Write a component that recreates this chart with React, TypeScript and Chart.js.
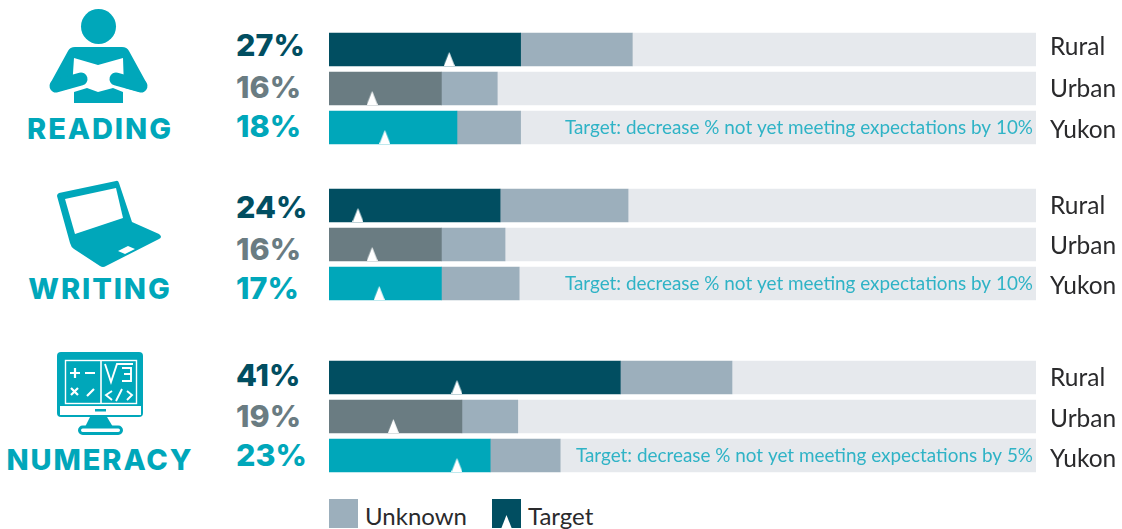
import React, { useEffect, useRef } from "react";
import { Chart, registerables } from "chart.js";

Chart.register(...registerables);

const regions = ["Rural", "Urban", "Yukon"];
const readingMeasured = [27.1, 15.9, 18.1];
const readingUnknown = [15.8, 7.9, 9.0];
const readingTarget = [17.0, 6.1, 7.9];
const readingLabels = [27, 16, 18];
const writingMeasured = [24.2, 15.9, 15.9];
const writingUnknown = [18.1, 9.0, 11.0];
const writingTarget = [4.1, 6.1, 7.1];
const writingLabels = [24, 16, 17];
const numeracyMeasured = [41.2, 18.8, 22.8];
const numeracyUnknown = [15.8, 7.9, 9.9];
const numeracyTarget = [18.1, 9.1, 18.1];
const numeracyLabels = [41, 19, 23];
const readingNote = "Target: decrease % not yet meeting expectations by 10%";
const writingNote = "Target: decrease % not yet meeting expectations by 10%";
const numeracyNote = "Target: decrease % not yet meeting expectations by 5%";

const DARK = "#014E61";
const GREY = "#6A7C82";
const TEAL = "#00A7BA";
const UNKNOWN = "#9CAFBC";
const TRACK = "#E6E9ED";
const NOTE = "#2FB3C6";
const INK = "#2A2A2C";
const rowColors = [DARK, GREY, TEAL];
const BODY_FONT = "Lato, sans-serif";
const HEAD_FONT = "Inter, sans-serif";

function makeMarker(): HTMLCanvasElement {
  const c = document.createElement("canvas");
  c.width = 11;
  c.height = 33;
  const g = c.getContext("2d")!;
  g.fillStyle = "#FFFFFF";
  g.beginPath();
  g.moveTo(5.5, 19);
  g.lineTo(11, 33);
  g.lineTo(0, 33);
  g.closePath();
  g.fill();
  return c;
}

function GroupChart(props: {
  top: number;
  measured: number[];
  unknown: number[];
  target: number[];
  note: string;
  labelNudge: number[];
}) {
  const ref = useRef<HTMLCanvasElement>(null);
  useEffect(() => {
    const { measured, unknown, target, note, labelNudge } = props;
    const chart = new Chart(ref.current!, {
      type: "bar",
      data: {
        labels: regions,
        datasets: [
          {
            type: "scatter",
            label: "Target",
            data: regions.map((r, i) => ({ x: target[i], y: r })),
            pointStyle: makeMarker(),
            order: 0,
            clip: false,
          } as any,
          { label: "Measured", data: measured, backgroundColor: rowColors, order: 1, barThickness: 33 },
          { label: "Unknown", data: unknown, backgroundColor: UNKNOWN, order: 2, barThickness: 33 },
          {
            label: "Remaining",
            data: measured.map((m, i) => 100 - m - unknown[i]),
            backgroundColor: TRACK,
            order: 3,
            barThickness: 33,
          },
        ],
      },
      options: {
        indexAxis: "y",
        responsive: false,
        animation: false,
        layout: { padding: 0, autoPadding: false },
        events: [],
        plugins: { legend: { display: false }, tooltip: { enabled: false } },
        scales: {
          x: { display: false, stacked: true, min: 0, max: 100 },
          y: {
            type: "category",
            position: "right",
            stacked: true,
            offset: true,
            grid: { display: false, drawTicks: false },
            border: { display: false },
            ticks: { padding: 14, color: INK, font: { family: BODY_FONT, size: 24.5 } },
            afterBuildTicks: (s: any) => {
              s.getPixelForTick = (i: number) => s.getPixelForValue(i) + (labelNudge[i] || 0);
            },
            afterFit: (s: any) => {
              s.width = 86;
              s.paddingTop = 0;
              s.paddingBottom = 0;
              s.paddingLeft = 0;
              s.paddingRight = 0;
            },
          },
        },
      },
      plugins: [
        {
          id: "targetNote",
          afterDatasetsDraw(c: any) {
            const g = c.ctx;
            g.save();
            g.font = `18.9px ${BODY_FONT}`;
            g.fillStyle = NOTE;
            g.textAlign = "right";
            g.textBaseline = "middle";
            g.fillText(note, c.scales.x.right - 3, c.scales.y.getPixelForValue(2));
            g.restore();
          },
        },
      ],
    } as any);
    return () => chart.destroy();
  }, []);
  return (
    <canvas
      ref={ref}
      width={793}
      height={117}
      style={{ position: "absolute", left: 329, top: props.top, width: 793, height: 117 }}
    />
  );
}

function Percent({ value, center, index }: { value: number; center: number; index: number }) {
  return (
    <div
      style={{
        position: "absolute",
        left: 236,
        top: center - 20,
        height: 40,
        lineHeight: "40px",
        fontFamily: HEAD_FONT,
        fontWeight: 800,
        fontSize: 30.5,
        color: rowColors[index],
        whiteSpace: "nowrap",
      }}
    >
      {value}%
    </div>
  );
}

function Heading({ text, center, y }: { text: string; center: number; y: number }) {
  return (
    <div
      style={{
        position: "absolute",
        left: center - 110,
        width: 220,
        top: y - 20,
        height: 40,
        lineHeight: "40px",
        textAlign: "center",
        fontFamily: HEAD_FONT,
        fontWeight: 800,
        fontSize: 29,
        letterSpacing: 1.9,
        color: TEAL,
      }}
    >
      {text}
    </div>
  );
}

function Icons() {
  return (
    <svg width={1122} height={529} style={{ position: "absolute", left: 0, top: 0 }}>
      {/* reader */}
      <circle cx={98.5} cy={26.5} r={17.5} fill={TEAL} />
      <path
        d="M75 47 H122 Q127 47 129 51 L146 82 Q148 90 140 92 L114 85 H82 L56 92 Q48 90 51 82 L68 51 Q70 47 75 47 Z"
        fill={TEAL}
      />
      <path d="M74 58 L98 65 L123 58 L124 88 L113 88 L98 93 L87 88 L72 88 Z" fill="#fff" />
      <path d="M141 86 L116 79 M56 86 L81 79" stroke={TEAL} strokeWidth={13} strokeLinecap="round" />
      <path d="M74 92 L87 88 L98 92 L113 88 L123 92 V103 H74 Z" fill={TEAL} />
      {/* laptop */}
      <path
        d="M59 193 L116 181 Q118 180 119 183 L132 222 L159 234 Q163 237 159 239 L106 266 Q103 268 100 266 L74 249 Q71 247 70 243 L57 196 Q57 194 59 193 Z"
        fill={TEAL}
      />
      <path d="M65 199 L116 188 L123 218 L75 234 Z" fill="#fff" />
      <path d="M118 251 L128 246 L135 249 L125 254 Z" fill="#fff" />
      {/* monitor */}
      <rect x={57} y={352} width={86} height={65} rx={4} fill={TEAL} />
      <rect x={65.5} y={360.5} width={71} height={43} fill="none" stroke="#fff" strokeWidth={1.4} />
      <path d="M101 360 V403" stroke="#fff" strokeWidth={1.6} />
      <rect x={60} y={406} width={81} height={9} fill="#fff" />
      <rect x={95} y={409} width={11} height={2.5} fill={TEAL} />
      <path d="M90 417 H107 L113 427 H85 Z" fill={TEAL} />
      <rect x={79.5} y={427} width={42} height={6.5} rx={3.2} fill="#fff" stroke={TEAL} strokeWidth={3} />
      <path
        d="M70 373 H80 M75 368 V378 M85 373 H95 M71 388 L78 395 M78 388 L71 395 M87 396 L94 389"
        stroke="#fff"
        strokeWidth={2.2}
        fill="none"
      />
      <path
        d="M105 364 L111 382 L117 364 H133 M122 368 H131 V381 H122 M124 374 H131 M112 391 L106 395 L112 400 M122 389 L116 401 M127 391 L132 395 L127 400"
        stroke="#fff"
        strokeWidth={1.9}
        fill="none"
      />
      {/* legend swatches */}
      <rect x={329} y={499} width={29} height={29} fill={UNKNOWN} />
      <rect x={492} y={499} width={29} height={29} fill={DARK} />
      <path d="M506.5 515 L512 529 H501 Z" fill="#fff" />
    </svg>
  );
}

function LegendText({ text, left }: { text: string; left: number }) {
  return (
    <div
      style={{
        position: "absolute",
        left,
        top: 496,
        height: 40,
        lineHeight: "40px",
        fontFamily: BODY_FONT,
        fontSize: 24,
        color: INK,
      }}
    >
      {text}
    </div>
  );
}

export default function App() {
  return (
    <div style={{ position: "absolute", left: 0, top: 0, width: 1122, height: 529, overflow: "hidden", background: "#fff" }}>
      <Icons />
      <Heading text="READING" center={100} y={129} />
      <Heading text="WRITING" center={100} y={289} />
      <Heading text="NUMERACY" center={100} y={460} />
      {readingLabels.map((v, i) => (
        <Percent key={i} value={v} index={i} center={[45, 87, 126][i]} />
      ))}
      {writingLabels.map((v, i) => (
        <Percent key={i} value={v} index={i} center={[207, 249, 288][i]} />
      ))}
      {numeracyLabels.map((v, i) => (
        <Percent key={i} value={v} index={i} center={[375, 416, 455][i]} />
      ))}
      <GroupChart top={30} measured={readingMeasured} unknown={readingUnknown} target={readingTarget} note={readingNote} labelNudge={[-2, 1, 3]} />
      <GroupChart top={186} measured={writingMeasured} unknown={writingUnknown} target={writingTarget} note={writingNote} labelNudge={[1, 2, 3]} />
      <GroupChart top={358} measured={numeracyMeasured} unknown={numeracyUnknown} target={numeracyTarget} note={numeracyNote} labelNudge={[1, 3, 4]} />
      <LegendText text="Unknown" left={365} />
      <LegendText text="Target" left={528} />
    </div>
  );
}
